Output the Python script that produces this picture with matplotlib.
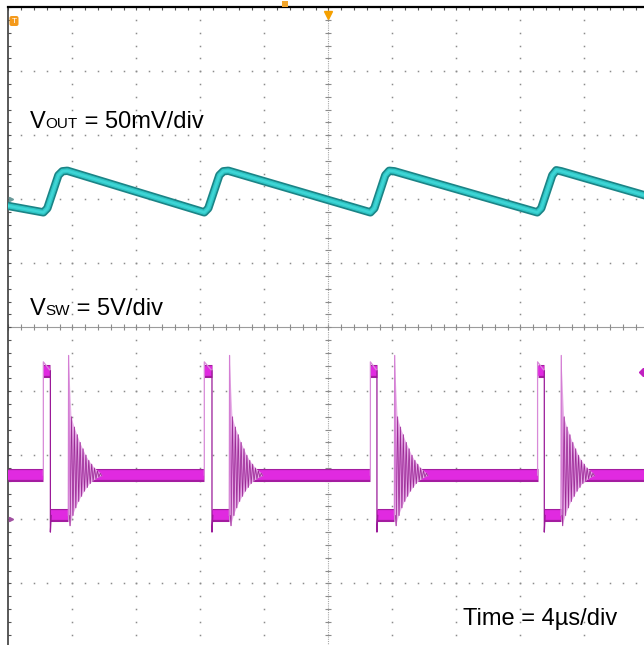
import matplotlib
matplotlib.use('Agg')
import matplotlib.pyplot as plt
import numpy as np
from matplotlib.transforms import IdentityTransform
from matplotlib.patches import Rectangle, FancyBboxPatch

plt.rcParams['font.family'] = ['Liberation Sans', 'DejaVu Sans']

# scope settings
t_div = 4.0        # us/div
vout_div = 50.0    # mV/div
vsw_div = 5.0      # V/div
vout_ref = 2.0     # ch1 ground marker (div)
vsw_ref = -3.0     # ch2 ground marker (div)

# VOUT ripple, keypoints (us, mV)
vout_t = [0.0, 2.19, 2.44, 3.13, 3.38, 3.69,
          12.25, 12.50, 13.19, 13.44, 13.75,
          22.63, 22.88, 23.56, 23.81, 24.13,
          33.06, 33.31, 34.00, 34.25, 34.56, 40.0]
vout_mv = [-5.2, -10.2, -7.0, 18.8, 21.9, 22.3,
           -10.2, -7.0, 18.8, 21.9, 22.3,
           -10.2, -7.0, 18.8, 22.3, 21.9,
           -10.2, -7.0, 18.8, 22.7, 21.9, 2.3]

# VSW switching node (us)
sw_rise = [2.19, 12.25, 22.63, 33.08]
sw_fall = [2.63, 12.73, 23.04, 33.50]
sw_ring = [3.75, 13.81, 24.13, 34.54]
v_base = 3.45
v_high = 11.6
v_low = 0.3
v_rise_pk = 12.3
v_fall_pk = -1.0
ring_pk = [12.8, -0.5, 8.0, 0.3, 7.2, 0.9, 6.6, 1.4, 6.0, 1.8, 5.5,
           2.2, 5.0, 2.5, 4.6, 2.8, 4.3, 3.0, 4.0, 3.15, 3.8, 3.3, 3.6, 3.4]
ring_half = 0.09  # us

W, H = 644, 645
fig = plt.figure(figsize=(W/100, H/100), dpi=100)
fig.patch.set_facecolor('white')
ax = fig.add_axes([8.3/W, (H-7.3-640)/H, 640/W, 640/H])
ax.set_xlim(0, 10*t_div)
ax.set_ylim(-5, 5)

# graticule
grid_c = '#8c8c8c'
minor = np.arange(0, 10.001, 0.2)
for k in range(1, 10):
    if k == 5:
        continue
    ax.plot(np.full(len(minor), k*t_div), minor-5, ls='none', marker='s', ms=1.1, mew=0, color=grid_c, zorder=1)
    ax.plot(minor*t_div, np.full(len(minor), k-5), ls='none', marker='s', ms=1.1, mew=0, color=grid_c, zorder=1)
ax.axhline(0, color='#9c9c9c', lw=0.8, zorder=1)
ax.plot(minor*t_div, np.zeros(len(minor)), ls='none', marker='|', ms=4, mew=0.8, color='#8c8c8c', zorder=1)
ax.axvline(5*t_div, color='#a8a8a8', lw=0.8, ls=(0, (1, 1)), zorder=1)
ax.plot(np.full(len(minor), 5*t_div), minor-5, ls='none', marker='_', ms=4, mew=0.8, color='#8c8c8c', zorder=1)

ax.set_xticks(minor*t_div)
ax.set_yticks(minor-5)
ax.tick_params(direction='in', length=2.5, width=0.8, color='#555555', top=True, bottom=False,
               left=True, right=False, labelleft=False, labelbottom=False)
for s in ['right', 'bottom']:
    ax.spines[s].set_visible(False)
ax.spines['top'].set_color('black')
ax.spines['top'].set_linewidth(1.6)
ax.spines['left'].set_color('#3c3c3c')
ax.spines['left'].set_linewidth(1.2)

# VOUT trace
yv = vout_ref + np.array(vout_mv)/vout_div
ax.plot(vout_t, yv, color='#1b8486', lw=6.0, solid_joinstyle='round', zorder=3)
ax.plot(vout_t, yv, color='#2fc6c6', lw=3.6, solid_joinstyle='round', zorder=4)
ax.plot(vout_t, yv, color='#3fd6d6', lw=1.6, solid_joinstyle='round', zorder=4)

def sw(v):
    return vsw_ref + np.asarray(v)/vsw_div

# VSW bands (noise envelope)
base_from = [0.0] + [r + 1.3 for r in sw_ring]
base_to = sw_rise + [10*t_div]
for a, b in zip(base_from, base_to):
    ax.plot([a, b], sw([v_base, v_base]), color='#a41ca0', lw=9.4, solid_capstyle='butt', zorder=3)
    ax.plot([a, b], sw([v_base, v_base]), color='#e02ae0', lw=7.0, solid_capstyle='butt', zorder=4)
for r, f, g in zip(sw_rise, sw_fall, sw_ring):
    for a, b, v in [(r, f, v_high), (f, g, v_low)]:
        ax.plot([a, b], sw([v, v]), color='#a41ca0', lw=9.4, solid_capstyle='butt', zorder=3)
        ax.plot([a, b], sw([v, v]), color='#e02ae0', lw=7.0, solid_capstyle='butt', zorder=4)
    # edges
    ax.plot([r, r, f], sw([v_base, v_rise_pk, v_high]), color='#d88ad8', lw=0.9, zorder=5)
    ax.plot([f, f, f + 0.05], sw([v_high, v_fall_pk, v_low]), color='#9a1a98', lw=0.9, zorder=5)
    # ringing: persistence fan + traces
    rt = [g + 0.02 + k*ring_half for k in range(len(ring_pk))]
    up = [(t, v) for t, v in zip(rt, ring_pk) if v > v_base]
    lo = [(t, v) for t, v in zip(rt, ring_pk) if v <= v_base]
    poly = up + lo[::-1]
    ax.fill([p[0] for p in poly], sw([p[1] for p in poly]), color='#e8b4e8', lw=0, zorder=4.5)
    ax.plot([g] + rt, sw([v_low] + ring_pk), color='#d47ed4', lw=0.9, zorder=5)
    rt2 = [g + 0.06] + [g + 0.065 + ring_half/2 + k*ring_half for k in range(len(ring_pk) - 1)]
    ax.plot(rt2, sw([v_low] + ring_pk[1:]), color='#9a2a94', lw=0.5, zorder=6)

# channel / trigger markers
ax.plot([0.15], [vout_ref], marker='>', ms=3, color='#6a9a9a', clip_on=False, zorder=7)
ax.plot([0.15], [vsw_ref], marker='>', ms=3, color='#a050a0', clip_on=False, zorder=7)
ax.plot([39.65], [sw(11.5)], marker='D', ms=4.5, color='#c020c0', clip_on=False, zorder=7)
ax.plot([5*t_div], [4.88], marker='v', ms=5.5, color='#f5a000', clip_on=False, zorder=7)

idt = IdentityTransform()
fig.add_artist(FancyBboxPatch((9.5, H-26), 9, 10, boxstyle='round,pad=0,rounding_size=2',
                              fc='#f49a1c', ec='none', transform=idt))
fig.text(14, H-21.5, 'T', fontsize=6, color='white', ha='center', va='center', transform=idt)
fig.add_artist(Rectangle((282, H-7), 6, 6, fc='#f2a52a', ec='none', transform=idt))

# labels
def put_label(parts, x, y):
    r = fig.canvas.get_renderer()
    for s, size in parts:
        t = fig.text(x, H - y, s, fontsize=size, transform=idt, ha='left', va='baseline', color='black')
        bb = t.get_window_extent(renderer=r)
        x = bb.x1

put_label([('V', 17), ('OUT', 11), (' = 50mV/div', 17)], 30, 128)
put_label([('V', 17), ('SW', 11), (' = 5V/div', 17)], 30, 315)
put_label([('Time = 4\u00b5s/div', 17)], 463, 625)

fig.savefig('out.png', dpi=100)
